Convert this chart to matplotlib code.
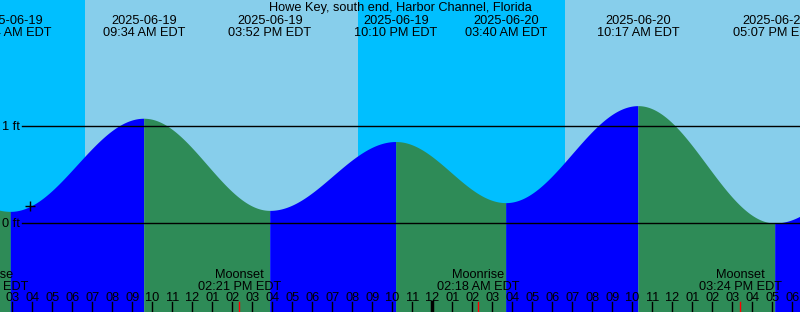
import numpy as np
import matplotlib.pyplot as plt
from matplotlib.transforms import blended_transform_factory

plt.rcParams['font.family'] = ['Liberation Sans', 'DejaVu Sans']
FS = 9.2

title = "Howe Key, south end, Harbor Channel, Florida"

# tide extremes, hours after 2025-06-19 00:00 EDT (first and last lie off-chart)
tide_hours = [-3.3, 2.9, 9.57, 15.87, 22.17, 27.67, 34.28, 41.12, 47.5]
tide_ft = [0.80, 0.12, 1.08, 0.13, 0.84, 0.21, 1.21, 0.00, 0.75]
tide_dates = ["2025-06-19", "2025-06-19", "2025-06-19", "2025-06-19",
              "2025-06-20", "2025-06-20", "2025-06-20"]
tide_times = ["02:54 AM EDT", "09:34 AM EDT", "03:52 PM EDT", "10:10 PM EDT",
              "03:40 AM EDT", "10:17 AM EDT", "05:07 PM EDT"]

# moon events
moon_hours = [1.73, 14.35, 26.3, 39.4]
moon_names = ["Moonrise", "Moonset", "Moonrise", "Moonset"]
moon_times = ["01:44 AM EDT", "02:21 PM EDT", "02:18 AM EDT", "03:24 PM EDT"]

# daylight
sunrise_hours = [6.63, 30.63]
sunset_hours = [20.28, 44.3]

now_hour = 3.88
level_lines = [0, 1]

x0, x1 = 2.385, 42.385
y0, y1 = -89 / 97, 223 / 97

NIGHT = "#00BFFF"
DAY = "#87CEEB"
RISE = "#0000FF"
FALL = "#2E8B57"


def tide_level(h):
    i = np.searchsorted(tide_hours, h) - 1
    ta, tb = tide_hours[i], tide_hours[i + 1]
    ya, yb = tide_ft[i], tide_ft[i + 1]
    f = (h - ta) / (tb - ta)
    return ya + (yb - ya) * (1 - np.cos(np.pi * f)) / 2


fig = plt.figure(figsize=(8, 3.12), dpi=100)
ax = fig.add_axes([0, 0, 1, 1])
ax.set_xlim(x0, x1)
ax.set_ylim(y0, y1)
ax.axis("off")

# sky
ax.axvspan(x0 - 5, x1 + 5, color=NIGHT, lw=0)
for sr, ss in zip(sunrise_hours, sunset_hours):
    ax.axvspan(sr, ss, color=DAY, lw=0)

# water, blue while rising, green while falling
for i in range(len(tide_hours) - 1):
    ta, tb = tide_hours[i], tide_hours[i + 1]
    hh = np.linspace(ta, tb, 300)
    lv = np.array([tide_level(min(max(h, ta + 1e-9), tb - 1e-9)) for h in hh])
    color = RISE if tide_ft[i + 1] > tide_ft[i] else FALL
    ax.fill_between(hh, y0 - 1, lv, color=color, lw=0)

# level lines
lx = x0 + 22 / 20
for lvl in level_lines:
    ax.plot([lx, x1 + 1], [lvl, lvl], color="black", lw=1)
    ax.text(x0 + 2 / 20, lvl - 4 / 97, f"{lvl} ft", ha="left", va="baseline",
            fontsize=FS)

# current time marker
ax.plot(now_hour, tide_level(now_hour), marker="+", color="black", ms=7, mew=1)

bt = blended_transform_factory(ax.transData, ax.transAxes)


def frac(py):
    return 1 - py / 312


ax.text(0.5, frac(11), title, transform=ax.transAxes, ha="center",
        va="baseline", fontsize=FS)

for h, d, t in zip(tide_hours[1:-1], tide_dates, tide_times):
    ax.text(h, frac(24), d, transform=bt, ha="center", va="baseline", fontsize=FS)
    ax.text(h, frac(36), t, transform=bt, ha="center", va="baseline", fontsize=FS)

for h, n, t in zip(moon_hours, moon_names, moon_times):
    ax.text(h, frac(277.7), n, transform=bt, ha="center", va="baseline",
            fontsize=FS)
    ax.text(h, frac(289.7), t, transform=bt, ha="center", va="baseline",
            fontsize=FS)
    ax.plot([h, h], [0, frac(302)], transform=bt, color="red", lw=1)

# hour ticks
for hr in range(2, 43):
    lbl = f"{(hr % 12) or 12:02d}"
    ax.text(hr, frac(301.3), lbl, transform=bt, ha="center", va="baseline",
            fontsize=FS)
    if hr in (24, 48):
        continue
    ax.plot([hr, hr], [0, frac(302)], transform=bt, color="black", lw=1)
ax.plot([24, 24], [0, frac(302)], transform=bt, color="black", lw=2.5)

fig.savefig("out.png", dpi=100)
